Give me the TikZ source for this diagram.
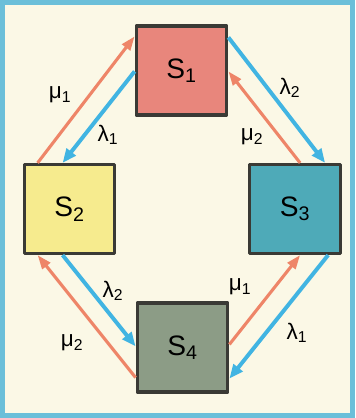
\documentclass[tikz,border=0pt]{standalone}
\usepackage{fontspec}
\setmainfont{Liberation Sans}
\usetikzlibrary{calc,arrows.meta}

\definecolor{rahmen}{HTML}{6BBFD9}
\definecolor{papier}{HTML}{FBF8E6}
\definecolor{rotS}{HTML}{E8867C}
\definecolor{gelbS}{HTML}{F6EB8E}
\definecolor{tuerkisS}{HTML}{4EAAB8}
\definecolor{grauS}{HTML}{8C9C86}
\definecolor{randS}{HTML}{3A3A35}
\definecolor{lampfeil}{HTML}{41B4E2}
\definecolor{mupfeil}{HTML}{EE8568}

\tikzset{
  zustand/.style={draw=randS, line width=2.4pt, minimum width=2.26cm, minimum height=2.22cm,
    inner sep=0pt, font=\fontsize{20}{24}\selectfont},
  lam/.style={draw=lampfeil, line width=2.8pt, -{Triangle[length=10pt,width=8pt]}},
  mu/.style={draw=mupfeil, line width=2.2pt, -{Triangle[length=10pt,width=7pt]}},
  marke/.style={font=\fontsize{16}{18}\selectfont, inner sep=1pt}
}

\begin{document}
\begin{tikzpicture}[x=0.025cm, y=-0.025cm, line join=round]
    % Rahmen und Hintergrund
    \useasboundingbox (0,0) rectangle (355,418);
    \fill[rahmen] (0,0) rectangle (355,418);
    \fill[papier] (5,5) rectangle (350,413);

    % Zustaende
    \node[zustand, fill=rotS] (S1) at (181.5,70.5) {S\textsubscript{1}};
    \node[zustand, fill=gelbS] (S2) at (69.5,209) {S\textsubscript{2}};
    \node[zustand, fill=tuerkisS] (S3) at (295,209) {S\textsubscript{3}};
    \node[zustand, fill=grauS] (S4) at (182.5,347.5) {S\textsubscript{4}};

    % Uebergaenge S1 -- S2
    \draw[mu] ($(S2.north west)+(15,0)$) -- ($(S1.north west)+(0,12)$);
    \draw[lam] ($(S1.north west)+(0,47)$) -- ($(S2.north west)+(40,0)$);

    % Uebergaenge S1 -- S3
    \draw[lam] ($(S1.north east)+(0,13)$) -- ($(S3.north west)+(77,0)$);
    \draw[mu] ($(S3.north west)+(52,0)$) -- ($(S1.north east)+(0,47)$);

    % Uebergaenge S2 -- S4
    \draw[mu] ($(S4.south west)+(0,-16)$) -- ($(S2.south west)+(15,0)$);
    \draw[lam] ($(S2.south west)+(40,0)$) -- ($(S4.north west)+(0,45)$);

    % Uebergaenge S3 -- S4
    \draw[mu] ($(S4.north east)+(0,43)$) -- ($(S3.south west)+(52,0)$);
    \draw[lam] ($(S3.south west)+(80,0)$) -- ($(S4.south east)+(0,-15)$);

    % Beschriftungen
    \node[marke] (m12) at (60,95) {μ\textsubscript{1}};
    \node[marke] (l12) at (108,135) {λ\textsubscript{1}};
    \node[marke] (l13) at (290,88) {λ\textsubscript{2}};
    \node[marke] (m13) at (252,137) {μ\textsubscript{2}};
    \node[marke] (l24) at (113,291) {λ\textsubscript{2}};
    \node[marke] (m24) at (72,343) {μ\textsubscript{2}};
    \node[marke] (m34) at (240,287) {μ\textsubscript{1}};
    \node[marke] (l34) at (297,333) {λ\textsubscript{1}};
\end{tikzpicture}
\end{document}
